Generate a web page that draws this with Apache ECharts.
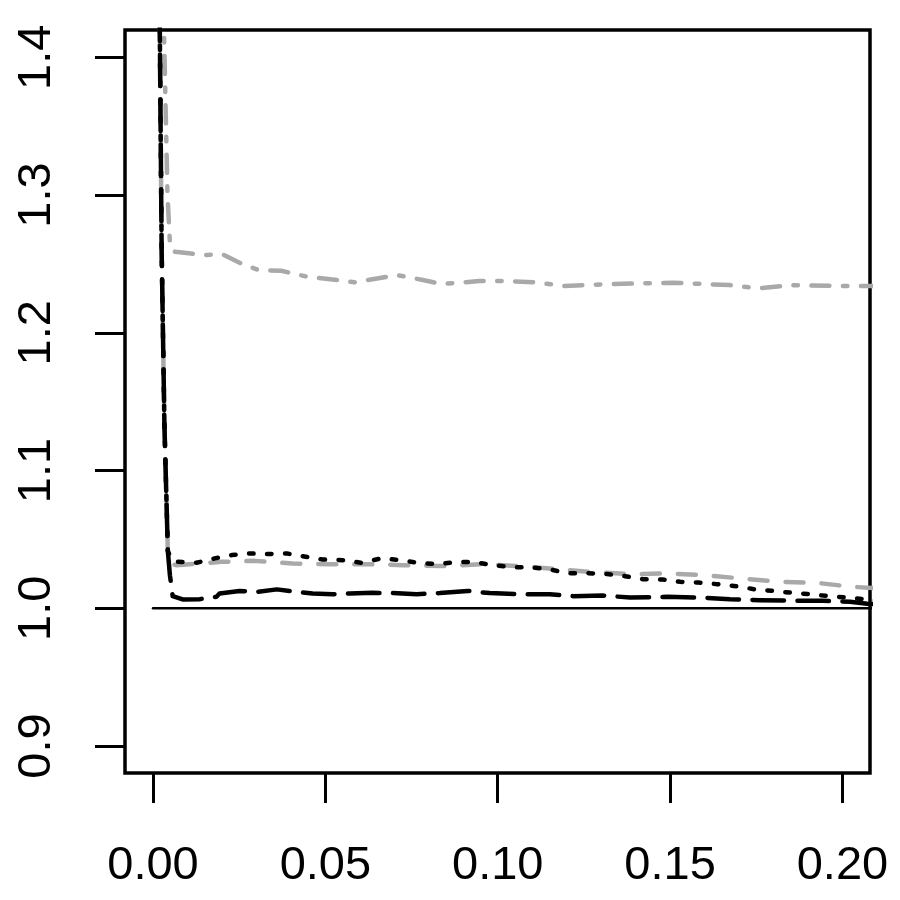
<!DOCTYPE html>
<html>
<head>
<meta charset="utf-8">
<script src="https://cdn.jsdelivr.net/npm/echarts@6/dist/echarts.min.js"></script>
<style>
  html, body { margin: 0; padding: 0; background: #fff; }
  #chart { width: 900px; height: 900px; }
</style>
</head>
<body>
<div id="chart"></div>
<script>
// tick positions / labels
const xTicks = [0, 0.05, 0.10, 0.15, 0.20]
const yTicks = [0.9, 1.0, 1.1, 1.2, 1.3, 1.4]

// gray dot-dash curve (top)
const grayDotDash = [
  [0.0029, 1.45], [0.0042, 1.30], [0.0049, 1.265], [0.0055, 1.260],
  [0.0064, 1.2588], [0.0091, 1.2581], [0.0152, 1.2564], [0.0200, 1.2572],
  [0.0255, 1.2504], [0.0306, 1.2455], [0.0372, 1.2450], [0.0447, 1.2407],
  [0.0536, 1.2383], [0.0584, 1.2366], [0.0707, 1.2419], [0.0783, 1.2383],
  [0.0838, 1.2354], [0.0947, 1.2375], [0.1029, 1.2375], [0.1111, 1.2366],
  [0.1193, 1.2339], [0.1330, 1.2354], [0.1508, 1.2363], [0.1673, 1.2346],
  [0.1755, 1.2322], [0.1851, 1.2346], [0.2015, 1.2339], [0.2100, 1.2339]
]

// gray dashed curve
const grayDashed = [
  [0.0017, 1.50], [0.0025, 1.26], [0.0033, 1.134], [0.0043, 1.0415],
  [0.0055, 1.032], [0.0068, 1.0313], [0.0199, 1.0337], [0.0295, 1.0344],
  [0.0405, 1.0325], [0.0513, 1.0320], [0.0620, 1.0320], [0.0725, 1.0313],
  [0.0841, 1.0306], [0.0957, 1.0320], [0.1064, 1.0306], [0.1172, 1.0284],
  [0.1276, 1.0262], [0.1384, 1.0248], [0.1491, 1.0253], [0.1596, 1.0240],
  [0.1709, 1.0216], [0.1813, 1.0192], [0.1927, 1.0184], [0.2031, 1.0155],
  [0.2100, 1.0146]
]

// black dotted curve
const blackDotted = [
  [0.0017, 1.50], [0.0025, 1.26], [0.0033, 1.134], [0.0043, 1.0415],
  [0.0054, 1.035], [0.0071, 1.0337], [0.0126, 1.0330], [0.0179, 1.0362],
  [0.0228, 1.0386], [0.0280, 1.0398], [0.0333, 1.0393], [0.0388, 1.0398],
  [0.0434, 1.0378], [0.0492, 1.0354], [0.0550, 1.0349], [0.0605, 1.0330],
  [0.0666, 1.0364], [0.0716, 1.0349], [0.0774, 1.0328], [0.0826, 1.0320],
  [0.0881, 1.0335], [0.0934, 1.0335], [0.0986, 1.0313], [0.1041, 1.0298],
  [0.1093, 1.0298], [0.1146, 1.0284], [0.1204, 1.0255], [0.1259, 1.0255],
  [0.1317, 1.0248], [0.1369, 1.0233], [0.1421, 1.0211], [0.1477, 1.0209],
  [0.1529, 1.0192], [0.1581, 1.0187], [0.1636, 1.0175], [0.1694, 1.0160],
  [0.1747, 1.0137], [0.1799, 1.0126], [0.1854, 1.0112], [0.1906, 1.0102],
  [0.1959, 1.0088], [0.2014, 1.0078], [0.2066, 1.0064], [0.2100, 1.0058]
]

// black long-dashed curve
const blackLongDash = [
  [0.0017, 1.50], [0.0025, 1.26], [0.0033, 1.134], [0.0043, 1.0415],
  [0.0049, 1.024], [0.0057, 1.0088], [0.0086, 1.0064], [0.0135, 1.0066],
  [0.0184, 1.0083], [0.0193, 1.0107], [0.0251, 1.0126], [0.0301, 1.0119],
  [0.0359, 1.0137], [0.0417, 1.0119], [0.0463, 1.0107], [0.0521, 1.0102],
  [0.0571, 1.0107], [0.0637, 1.0112], [0.0695, 1.0110], [0.0765, 1.0102],
  [0.0832, 1.0110], [0.0913, 1.0126], [0.0977, 1.0110], [0.1064, 1.0102],
  [0.1151, 1.0102], [0.1218, 1.0088], [0.1305, 1.0092], [0.1384, 1.0078],
  [0.1491, 1.0083], [0.1587, 1.0078], [0.1674, 1.0066], [0.1761, 1.0059],
  [0.1848, 1.0055], [0.1944, 1.0054], [0.2022, 1.0048], [0.2072, 1.0033],
  [0.2100, 1.0030]
]

// horizontal reference at 1
const refLine = [[0, 1], [0.21, 1]]

const FONT = "'Liberation Sans', Arial, sans-serif"
const GRAY = '#a9a9a9'

const chart = echarts.init(document.getElementById('chart'), null, { renderer: 'canvas' })

function curve(data, color, dash, width) {
  return {
    type: 'line',
    data: data,
    showSymbol: false,
    symbol: 'none',
    clip: true,
    animation: false,
    silent: true,
    lineStyle: { color: color, width: width, type: dash, cap: 'round', join: 'round' }
  }
}

chart.setOption({
  animation: false,
  grid: {
    left: 125, right: 30, top: 30, bottom: 127,
    show: true, borderColor: '#000', borderWidth: 3.5,
    backgroundColor: 'transparent'
  },
  xAxis: {
    type: 'value',
    min: -0.00813, max: 0.2080,
    axisLine: { show: false, onZero: false },
    splitLine: { show: false },
    axisTick: { show: true, inside: false, customValues: xTicks, length: 30, lineStyle: { color: '#000', width: 3 } },
    axisLabel: {
      customValues: xTicks, margin: 70,
      formatter: v => v.toFixed(2),
      fontSize: 47, fontFamily: FONT, color: '#000'
    }
  },
  yAxis: {
    type: 'value',
    min: 0.8804, max: 1.4198,
    axisLine: { show: false, onZero: false },
    splitLine: { show: false },
    axisTick: { show: true, inside: false, customValues: yTicks, length: 30, lineStyle: { color: '#000', width: 3 } },
    axisLabel: {
      customValues: yTicks, margin: 64, rotate: 90,
      formatter: v => v.toFixed(1),
      fontSize: 47, fontFamily: FONT, color: '#000'
    }
  },
  series: [
    curve(refLine, '#000', 'solid', 2.5),
    curve(grayDotDash, GRAY, [4.5, 13.5, 18, 13.5], 4.5),
    curve(grayDashed, GRAY, [18, 18], 4.5),
    curve(blackDotted, '#000', [4.5, 13.5], 4.5),
    curve(blackLongDash, '#000', [31.5, 13.5], 4.5)
  ]
})
</script>
</body>
</html>
